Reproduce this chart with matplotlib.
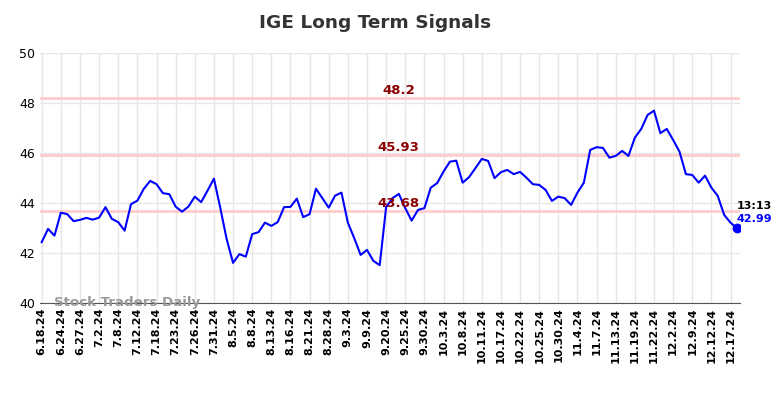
import numpy as np
import matplotlib
matplotlib.use('Agg')
import matplotlib.pyplot as plt

ticker = 'IGE'
tick_labels = ['6.18.24', '6.24.24', '6.27.24', '7.2.24', '7.8.24', '7.12.24', '7.18.24',
               '7.23.24', '7.26.24', '7.31.24', '8.5.24', '8.8.24', '8.13.24', '8.16.24',
               '8.21.24', '8.28.24', '9.3.24', '9.9.24', '9.20.24', '9.25.24', '9.30.24',
               '10.3.24', '10.8.24', '10.11.24', '10.17.24', '10.22.24', '10.25.24',
               '10.30.24', '11.4.24', '11.7.24', '11.13.24', '11.19.24', '11.22.24',
               '12.2.24', '12.9.24', '12.12.24', '12.17.24']
prices = [42.43, 42.96, 42.69, 43.61, 43.55, 43.27, 43.32, 43.40, 43.33, 43.41,
          43.83, 43.36, 43.23, 42.89, 43.95, 44.09, 44.56, 44.88, 44.75, 44.39,
          44.35, 43.85, 43.65, 43.85, 44.25, 44.03, 44.49, 44.97, 43.80, 42.55,
          41.60, 41.95, 41.85, 42.75, 42.83, 43.21, 43.08, 43.23, 43.83, 43.84,
          44.17, 43.43, 43.55, 44.57, 44.19, 43.81, 44.29, 44.41, 43.21, 42.59,
          41.92, 42.12, 41.68, 41.51, 43.83, 44.19, 44.36, 43.79, 43.29, 43.72,
          43.79, 44.61, 44.79, 45.25, 45.65, 45.69, 44.81, 45.03, 45.39, 45.76,
          45.68, 44.99, 45.23, 45.32, 45.15, 45.24, 45.01, 44.75, 44.72, 44.52,
          44.08, 44.25, 44.19, 43.92, 44.41, 44.81, 46.12, 46.23, 46.20, 45.81,
          45.88, 46.08, 45.88, 46.61, 46.96, 47.52, 47.69, 46.79, 46.96, 46.52,
          46.05, 45.15, 45.12, 44.81, 45.09, 44.61, 44.28, 43.52, 43.21, 42.99]
signals = [48.2, 45.93, 43.68]
last_time = '13:13'

x = np.arange(len(prices))

fig = plt.figure(figsize=(7.84, 3.98), dpi=100)
ax = fig.add_axes([0.051, 0.239, 0.893, 0.628])

for lvl in signals:
    ax.axhline(lvl, color='#ffcccc', lw=2, zorder=1)
    ax.text(56, lvl + 0.04, str(lvl), color='#8b0000', fontsize=9.5, fontweight='bold',
            ha='center', va='bottom', zorder=3)

ax.plot(x, prices, color='blue', lw=1.5, zorder=2)
ax.plot(x[-1], prices[-1], 'o', color='blue', ms=6, zorder=4)
ax.text(x[-1], prices[-1] + 0.9, last_time, color='black', fontsize=8, fontweight='bold',
        ha='left', va='center')
ax.text(x[-1], prices[-1] + 0.38, f'{prices[-1]:.2f}', color='blue', fontsize=8,
        fontweight='bold', ha='left', va='center')

ax.text(2, 40.0, 'Stock Traders Daily', color='#999999', fontsize=9.6, fontweight='bold',
        ha='left', va='center')

ax.set_xlim(-0.27, 109.5)
ax.set_ylim(40, 50)
ax.set_yticks(np.arange(40, 51, 2))
ax.set_xticks(np.arange(0, len(tick_labels) * 3, 3))
ax.set_xticklabels(tick_labels, rotation=90, fontsize=8, fontweight='bold')
ax.tick_params(axis='y', labelsize=9, length=0)
ax.tick_params(axis='x', length=0)
ax.grid(True, color='#e6e6e6', lw=1)
ax.set_axisbelow(True)
for s in ['left', 'right', 'top']:
    ax.spines[s].set_visible(False)
ax.spines['bottom'].set_color('#555555')

fig.suptitle(f'{ticker} Long Term Signals', fontsize=13.3, fontweight='bold', color='#333333',
             x=0.478, y=0.965)
fig.savefig('out.png', dpi=100)
